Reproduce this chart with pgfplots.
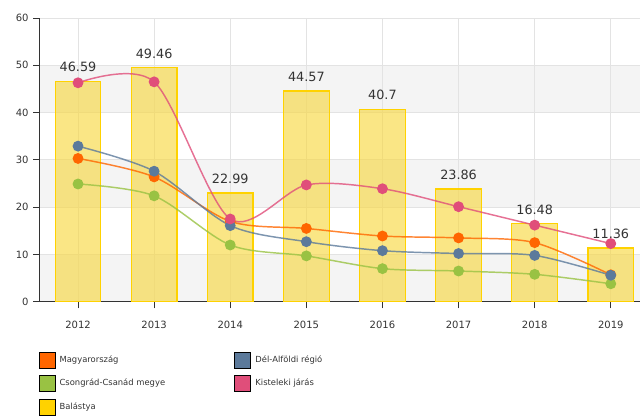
\documentclass[border=0pt]{standalone}
\usepackage{fontspec}
\setmainfont{DejaVu Sans}
\usepackage{pgfplots}
\pgfplotsset{compat=1.18}

\definecolor{cOrange}{HTML}{FF6600}
\definecolor{cBlue}{HTML}{5C7A9B}
\definecolor{cGreen}{HTML}{99C243}
\definecolor{cPink}{HTML}{E04E7A}
\definecolor{cGold}{HTML}{FFD200}
\definecolor{cGoldFill}{HTML}{F7D844}
\definecolor{bandgray}{HTML}{F4F4F4}
\definecolor{gridgray}{HTML}{E3E3E3}
\definecolor{textgray}{HTML}{333333}

\begin{document}
\begin{tikzpicture}[x=1pt,y=1pt]
\begin{axis}[
    set layers=standard,
    scale only axis,
    width=450.75pt, height=213pt,
    xmin=-0.5, xmax=7.39, ymin=0, ymax=60,
    xtick={0,...,7},
    xticklabels={2012,2013,2014,2015,2016,2017,2018,2019},
    ytick={0,10,...,60},
    axis x line*=bottom, axis y line*=left,
    axis line style={draw=textgray, line width=0.8pt},
    tick align=outside, major tick length=5pt,
    tick style={textgray, line width=0.7pt},
    grid=major,
    major grid style={draw=gridgray, line width=0.6pt},
    ticklabel style={font=\fontsize{7.5}{9}\selectfont, text=textgray},
    xticklabel style={yshift=-6pt},
    /pgf/number format/assume math mode=true,
    clip=false,
    legend image code/.code={\fill[#1] (0pt,-6pt) rectangle (12pt,6pt);},
    legend cell align=left,
    legend columns=2,
    legend style={at={(axis description cs:-0.0095,-0.1655)}, anchor=north west,
        draw=none, fill=none, font=\fontsize{6.3}{7.5}\selectfont, text=textgray,
        row sep=5.25pt, column sep=1.4pt,
        /tikz/every even column/.append style={column sep=50pt}},
]
\begin{pgfonlayer}{axis background}
\fill[bandgray] (axis cs:-0.5,0) rectangle (axis cs:7.39,10);
\fill[bandgray] (axis cs:-0.5,20) rectangle (axis cs:7.39,30);
\fill[bandgray] (axis cs:-0.5,40) rectangle (axis cs:7.39,50);
\end{pgfonlayer}

% Balástya
\addplot[ybar, bar width=0.6, fill=cGoldFill, fill opacity=0.65, draw=cGold,
    line width=0.9pt, forget plot,
    nodes near coords,
    every node near coord/.append style={font=\fontsize{9.6}{11}\selectfont,
        text=textgray, text opacity=1, yshift=3.4pt}]
coordinates {(0,46.59) (1,49.46) (2,22.99) (3,44.57) (4,40.7) (5,23.86) (6,16.48) (7,11.36)};

% Magyarország
\addplot[smooth, tension=0.5, cOrange, draw opacity=0.8, line width=1.1pt, forget plot,
    mark=*, mark size=3.5pt, mark options={draw opacity=1, fill=cOrange}]
coordinates {(0,30.3) (1,26.4) (2,17.0) (3,15.5) (4,13.9) (5,13.5) (6,12.5) (7,5.7)};

% Csongrád-Csanád megye
\addplot[smooth, tension=0.5, cGreen, draw opacity=0.8, line width=1.1pt, forget plot,
    mark=*, mark size=3.5pt, mark options={draw opacity=1, fill=cGreen}]
coordinates {(0,24.9) (1,22.4) (2,12.0) (3,9.7) (4,7.0) (5,6.5) (6,5.8) (7,3.8)};

% Dél-Alföldi régió
\addplot[smooth, tension=0.5, cBlue, draw opacity=0.8, line width=1.1pt, forget plot,
    mark=*, mark size=3.5pt, mark options={draw opacity=1, fill=cBlue}]
coordinates {(0,32.9) (1,27.6) (2,16.1) (3,12.7) (4,10.8) (5,10.2) (6,9.8) (7,5.6)};

% Kisteleki járás
\addplot[smooth, tension=0.5, cPink, draw opacity=0.8, line width=1.1pt, forget plot,
    mark=*, mark size=3.5pt, mark options={draw opacity=1, fill=cPink}]
coordinates {(0,46.3) (1,46.5) (2,17.5) (3,24.7) (4,23.9) (5,20.1) (6,16.2) (7,12.3)};

\addlegendimage{fill=cOrange}
\addlegendimage{fill=cBlue}
\addlegendimage{fill=cGreen}
\addlegendimage{fill=cPink}
\addlegendimage{fill=cGold}
\legend{Magyarország, Dél-Alföldi régió, Csongrád-Csanád megye, Kisteleki járás, Balástya}
\end{axis}
\path (-30,-81) rectangle (450.75,226.5);
\end{tikzpicture}
\end{document}
